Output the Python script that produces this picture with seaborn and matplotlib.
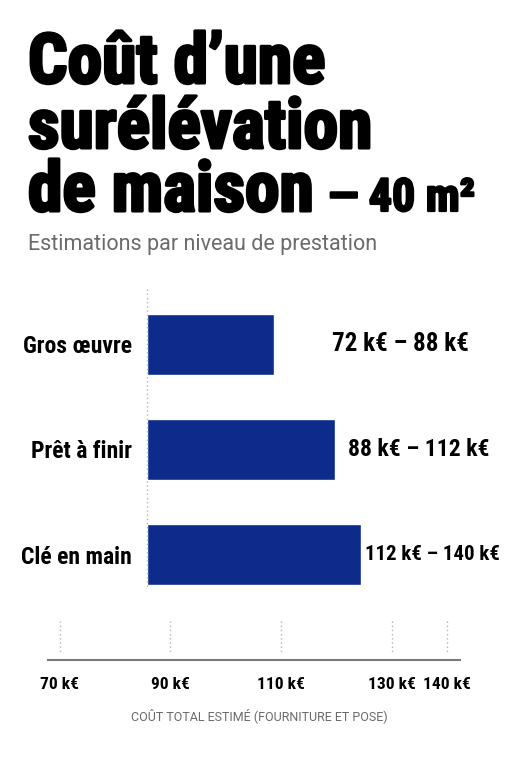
import matplotlib
matplotlib.use("Agg")
import matplotlib.pyplot as plt
from matplotlib import font_manager as fm
import matplotlib.patheffects as pe
import seaborn as sns
import pandas as pd

# ---- data ----
niveaux = ["Gros œuvre", "Prêt à finir", "Clé en main"]
debut_barre = [85.8, 85.8, 85.8]
fin_barre = [108.8, 119.8, 124.4]
fourchettes = ["72 k€ – 88 k€", "88 k€ – 112 k€", "112 k€ – 140 k€"]
graduations = [70, 90, 110, 130, 140]
etiquettes_graduations = ["70 k€", "90 k€", "110 k€", "130 k€", "140 k€"]

titre_lignes = ["Coût d’une", "surélévation", "de maison"]
titre_suffixe = "— 40 m²"
sous_titre = "Estimations par niveau de prestation"
titre_axe_x = "COÛT TOTAL ESTIMÉ (FOURNITURE ET POSE)"

df = pd.DataFrame({
    "niveau": niveaux,
    "debut": debut_barre,
    "ecart": [f - d for f, d in zip(fin_barre, debut_barre)],
})

# ---- style ----
sns.set_style("white")


def has_font(name):
    try:
        fm.findfont(fm.FontProperties(family=name), fallback_to_default=False)
        return True
    except Exception:
        return False


def first_font(names):
    for n in names:
        if has_font(n):
            return n
    return "DejaVu Sans"


COND = first_font(["Roboto Condensed", "Fira Sans Condensed", "Barlow Condensed",
                   "Liberation Sans Narrow"])
REG = first_font(["Roboto", "Liberation Sans"])
CONDF = [COND, "DejaVu Sans"]
REGF = [REG, "DejaVu Sans"]
plt.rcParams["font.family"] = CONDF

NAVY = "#0c2b8b"
GRAY = "#6b6b6b"

W, H = 511, 768
fig = plt.figure(figsize=(W / 100, H / 100), dpi=100)
fig.patch.set_facecolor("white")

ax_l, ax_r, ax_t, ax_b = 48, 460, 281, 660
ax = fig.add_axes([ax_l / W, 1 - ax_b / H, (ax_r - ax_l) / W, (ax_b - ax_t) / H])

sns.barplot(data=df, x="ecart", y="niveau", left=df["debut"].to_numpy(),
            color=NAVY, width=0.58, errorbar=None, ax=ax, saturation=1)

ax.set_xlim(67.9, 142.3)
ax.set_ylim(3.0, -0.6)

for s in ["top", "right", "left"]:
    ax.spines[s].set_visible(False)
ax.spines["bottom"].set_color("#7a7a7a")
ax.spines["bottom"].set_linewidth(1.5)

ax.set_xticks(graduations)
ax.set_xticklabels(etiquettes_graduations, fontsize=12.5, fontweight="bold",
                   family=CONDF, color="black")
ax.tick_params(axis="x", direction="inout", length=7, width=1.2, color="#7a7a7a", pad=9)
ax.tick_params(axis="y", length=0, pad=-60.5)
for lab in ax.get_yticklabels():
    lab.set_fontsize(17)
    lab.set_fontweight("bold")
    lab.set_ha("right")
    lab.set_family(CONDF)
    lab.set_color("black")

ax.set_ylabel("")
ax.set_xlabel(titre_axe_x, fontsize=9, color=GRAY, family=REGF)
ax.xaxis.set_label_coords((259 - ax_l) / (ax_r - ax_l), -(716 - ax_b) / (ax_b - ax_t))
ax.xaxis.label.set_va("center")

# dotted baseline at bar start
ax.vlines(debut_barre[0], -0.52, 2.31, colors="#b5b5b5", linestyles=(0, (1, 2)), linewidth=1)
# short dotted guides above the axis
ax.vlines(graduations, 2.63, 2.92, colors="#b5b5b5", linestyles=(0, (1, 2)), linewidth=1)

# value labels (right edges in figure pixels, sizes per row)
label_right = [469, 489, 500]
label_size = [18, 17, 15]
for i, (txt, rx, fs) in enumerate(zip(fourchettes, label_right, label_size)):
    ax.annotate(txt, xy=(rx / W, i), xycoords=("figure fraction", "data"),
                ha="right", va="center", fontsize=fs, fontweight="bold", color="black",
                family=CONDF)

# title
bold_eff = [pe.withStroke(linewidth=2.2, foreground="black")]
baselines = [83, 148, 211]
for line, b in zip(titre_lignes, baselines):
    t = fig.text(28 / W, 1 - b / H, line, fontsize=50, fontweight="bold", color="black",
                 va="baseline", ha="left", family=CONDF)
    t.set_path_effects(bold_eff)
fig.canvas.draw()
bb = t.get_window_extent()
t2 = fig.text((bb.x1 + 14) / W, 1 - baselines[-1] / H, titre_suffixe, fontsize=33,
              fontweight="bold", color="black", va="baseline", ha="left", family=CONDF)
t2.set_path_effects([pe.withStroke(linewidth=1.6, foreground="black")])

fig.text(28 / W, 1 - 250 / H, sous_titre, fontsize=15.5, color=GRAY,
         family=REGF, va="baseline", ha="left")

fig.savefig("out.png", dpi=100, facecolor="white")
